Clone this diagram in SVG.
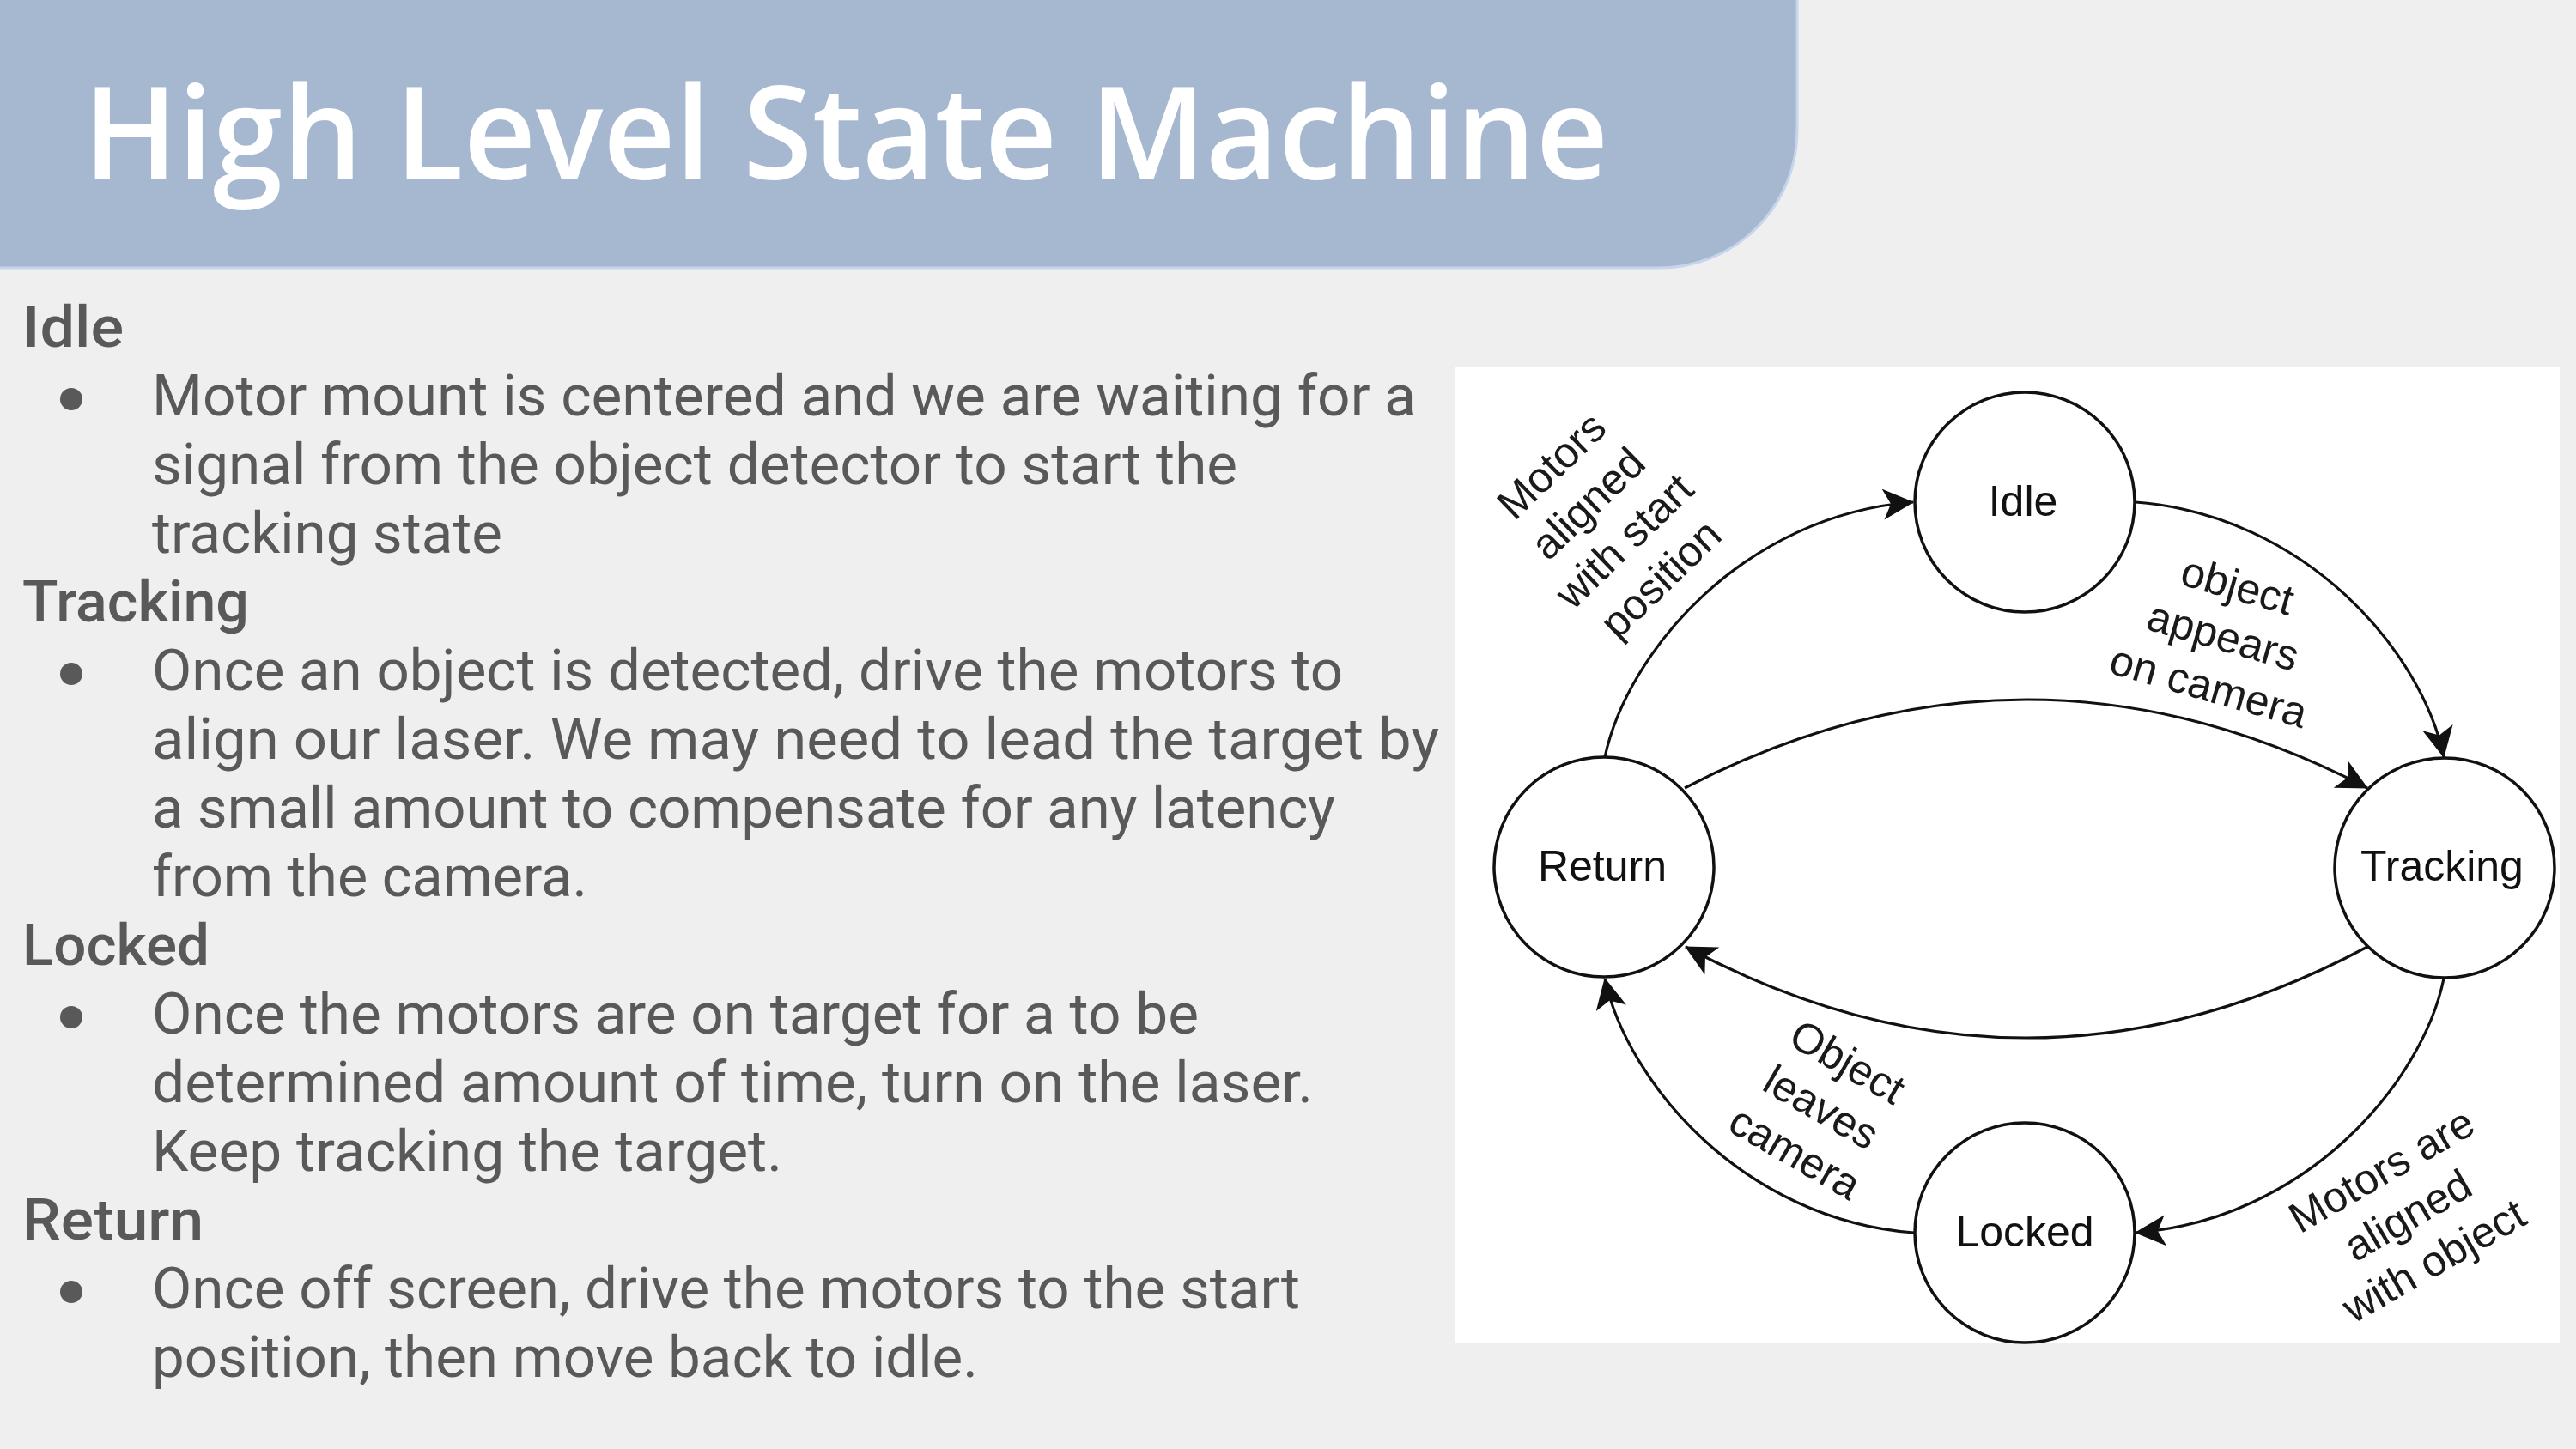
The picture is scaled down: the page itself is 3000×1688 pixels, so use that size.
<svg xmlns="http://www.w3.org/2000/svg" width="3000" height="1688" viewBox="0 0 3000 1688">
<style>
.title{font-family:"Open Sans","Liberation Sans",sans-serif;font-weight:600;font-size:150px;fill:#ffffff}
.head{font-family:Roboto,"Liberation Sans",sans-serif;font-weight:500;font-size:66.7px;fill:#595959}
.body{font-family:Roboto,"Liberation Sans",sans-serif;font-weight:400;font-size:66.7px;fill:#595959}
.bullet{fill:#595959}
.node circle{fill:#ffffff;stroke:#111111;stroke-width:3.5}
.node text{font-family:"Liberation Sans",Arial,sans-serif;font-size:50px;fill:#111111;text-anchor:middle}
.edge{fill:none;stroke:#111111;stroke-width:3.2}
.arrow{marker-end:url(#arrowhead)}
.elabel text{font-family:"Liberation Sans",Arial,sans-serif;font-size:50px;fill:#1a1a1a;text-anchor:middle}
</style>
<defs>
<marker id="arrowhead" viewBox="0 0 36 36" refX="35" refY="18" markerWidth="36" markerHeight="36" markerUnits="userSpaceOnUse" orient="auto">
<path d="M0,0 L36,18 L0,36 L9,18 Z" fill="#111111"/>
</marker>
</defs>
<rect x="0" y="0" width="3000" height="1688" fill="#efefef"/>
<g id="header">
<path d="M0,0 H2093 V152 A160,160 0 0 1 1933,312 H0 Z" fill="#a5b8cf"/>
<path d="M2093,0 V152 A160,160 0 0 1 1933,312 H0" fill="none" stroke="#c6d5ec" stroke-width="3"/>
<text class="title" x="97" y="209" textLength="1776" lengthAdjust="spacingAndGlyphs">High Level State Machine</text>
</g>
<g id="description">
<text class="head" x="26" y="404" textLength="118" lengthAdjust="spacingAndGlyphs">Idle</text>
<circle class="bullet" cx="83" cy="465" r="13"/>
<text class="body" x="177" y="484" textLength="1472" lengthAdjust="spacingAndGlyphs">Motor mount is centered and we are waiting for a</text>
<text class="body" x="177" y="564" textLength="1264" lengthAdjust="spacingAndGlyphs">signal from the object detector to start the</text>
<text class="body" x="177" y="644" textLength="408" lengthAdjust="spacingAndGlyphs">tracking state</text>
<text class="head" x="26" y="724" textLength="264" lengthAdjust="spacingAndGlyphs">Tracking</text>
<circle class="bullet" cx="83" cy="785" r="13"/>
<text class="body" x="177" y="804" textLength="1387" lengthAdjust="spacingAndGlyphs">Once an object is detected, drive the motors to</text>
<text class="body" x="177" y="884" textLength="1499" lengthAdjust="spacingAndGlyphs">align our laser. We may need to lead the target by</text>
<text class="body" x="177" y="964" textLength="1378" lengthAdjust="spacingAndGlyphs">a small amount to compensate for any latency</text>
<text class="body" x="177" y="1044" textLength="507" lengthAdjust="spacingAndGlyphs">from the camera.</text>
<text class="head" x="26" y="1124" textLength="218" lengthAdjust="spacingAndGlyphs">Locked</text>
<circle class="bullet" cx="83" cy="1185" r="13"/>
<text class="body" x="177" y="1204" textLength="1219" lengthAdjust="spacingAndGlyphs">Once the motors are on target for a to be</text>
<text class="body" x="177" y="1284" textLength="1352" lengthAdjust="spacingAndGlyphs">determined amount of time, turn on the laser.</text>
<text class="body" x="177" y="1364" textLength="734" lengthAdjust="spacingAndGlyphs">Keep tracking the target.</text>
<text class="head" x="26" y="1444" textLength="211" lengthAdjust="spacingAndGlyphs">Return</text>
<circle class="bullet" cx="83" cy="1505" r="13"/>
<text class="body" x="177" y="1524" textLength="1337" lengthAdjust="spacingAndGlyphs">Once off screen, drive the motors to the start</text>
<text class="body" x="177" y="1604" textLength="962" lengthAdjust="spacingAndGlyphs">position, then move back to idle.</text>
</g>
<g id="diagram-panel">
<rect x="1694" y="428" width="1287" height="1137" fill="#ffffff"/>
</g>
<g id="connectors">
<path id="edge-return-idle" class="edge arrow" d="M1869,882 C1895,760 2030,600 2228,585"/>
<path id="edge-idle-tracking" class="edge arrow" d="M2487,585 C2686,600 2821,760 2846,882"/>
<path id="edge-return-tracking" class="edge arrow" d="M1962,918 Q2360,712 2757,918"/>
<path id="edge-tracking-return" class="edge arrow" d="M2757,1103 Q2360,1315 1963,1103"/>
<path id="edge-tracking-locked" class="edge arrow" d="M2846,1140 C2821,1261 2686,1421 2487,1436"/>
<path id="edge-locked-return" class="edge arrow" d="M2229,1436 C2030,1421 1895,1261 1869,1140"/>
</g>
<g id="edge-labels" class="elabel">
<g id="label-return-idle" transform="translate(1870,608) rotate(-44)">
<text x="0" y="-74">Motors</text>
<text x="0" y="-13">aligned</text>
<text x="0" y="48">with start</text>
<text x="0" y="109">position</text>
</g>
<g id="label-idle-tracking" transform="translate(2589,741) rotate(16)">
<text x="0" y="-44">object</text>
<text x="0" y="17">appears</text>
<text x="0" y="78">on camera</text>
</g>
<g id="label-tracking-return" transform="translate(2121,1290) rotate(30)">
<text x="0" y="-44">Object</text>
<text x="0" y="17">leaves</text>
<text x="0" y="78">camera</text>
</g>
<g id="label-tracking-locked" transform="translate(2804,1416) rotate(-30)">
<text x="0" y="-44">Motors are</text>
<text x="0" y="17">aligned</text>
<text x="0" y="78">with object</text>
</g>
</g>
<g id="node-idle" class="node">
<circle cx="2358" cy="585" r="128"/>
<text x="2356" y="601">Idle</text>
</g>
<g id="node-tracking" class="node">
<circle cx="2847" cy="1011" r="128"/>
<text x="2844" y="1026">Tracking</text>
</g>
<g id="node-return" class="node">
<circle cx="1868" cy="1010" r="128"/>
<text x="1866" y="1026">Return</text>
</g>
<g id="node-locked" class="node">
<circle cx="2358" cy="1436" r="128"/>
<text x="2358" y="1452">Locked</text>
</g>
</svg>
